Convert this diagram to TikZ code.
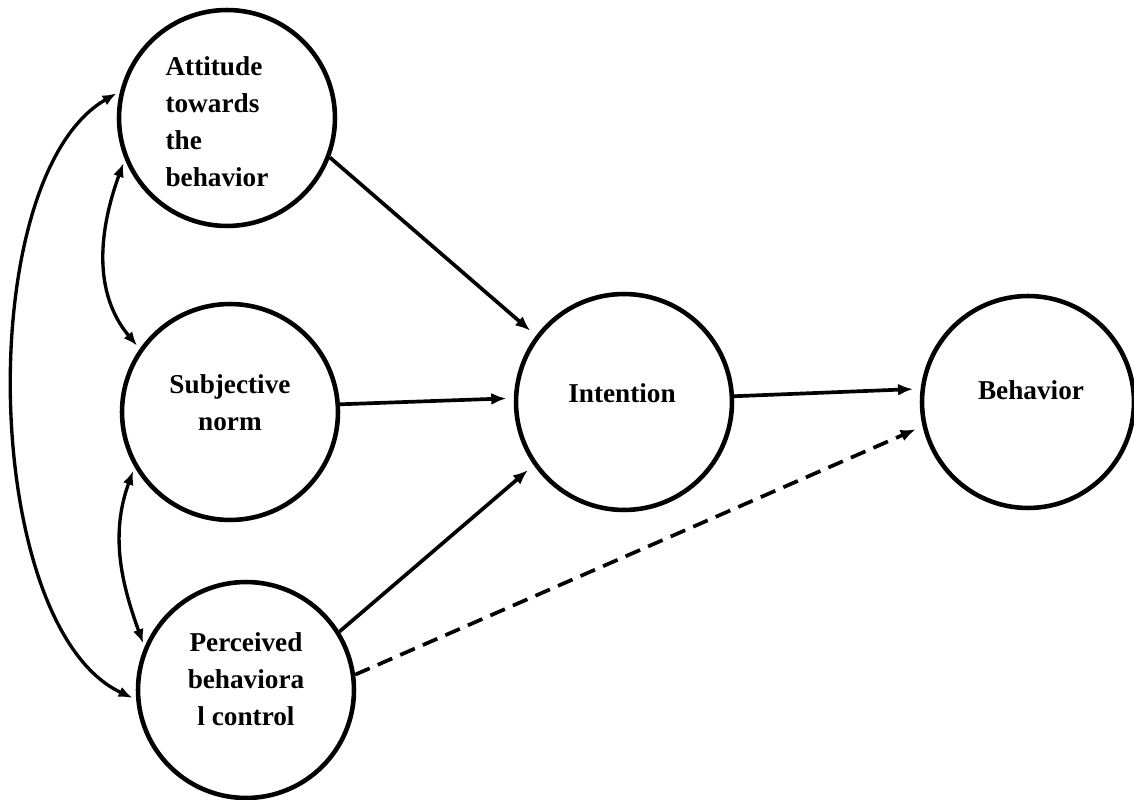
\documentclass[tikz,border=0pt]{standalone}
\usepackage{fontspec}
\setmainfont{Liberation Serif}
\usetikzlibrary{arrows.meta}

\begin{document}
\begin{tikzpicture}[x=0.02cm,y=-0.02cm,
  construct/.style={draw,circle,line width=2.6pt,minimum size=4.32cm,inner sep=0pt},
  caption/.style={font=\fontsize{15.5}{21}\selectfont\bfseries},
  link/.style={line width=2.1pt,-{Latex[length=0.3cm,width=0.24cm]},shorten >=0.15cm},
  corr/.style={line width=1.9pt,{Latex[length=0.28cm,width=0.22cm]}-{Latex[length=0.28cm,width=0.22cm]},shorten >=0.08cm,shorten <=0.08cm}]
  \useasboundingbox (0,0) rectangle (1134,800);

  \node [construct] (att) at (227,118) {};
  \node [construct] (norm) at (230,412) {};
  \node [construct] (pbc) at (246,690) {};
  \node [construct] (intent) at (624,402) {};
  \node [construct,minimum size=4.24cm] (behav) at (1028,402) {};

  \node [caption,align=left] (atttext) at (217,122) { Attitude\\towards\\the\\behavior };
  \node [caption,align=center] (normtext) at (230,403) { Subjective\\norm };
  \node [caption,align=center] (pbctext) at (246,679) { Perceived\\behaviora\\l control };
  \node [caption] (intenttext) at (622,393) { Intention };
  \node [caption] (behavtext) at (1031,390) { Behavior };

  \draw [link] (att.-21) -- (intent.143);
  \draw [link] (norm.4) -- (intent.178);
  \draw [link] (pbc.32) -- (intent.215);
  \draw [link] (intent.3) -- (behav.173);
  \draw [link,dashed,dash pattern=on 9pt off 5pt] (pbc.8) -- (behav.193);

  \draw [corr] (att.202) to [out=250,in=130] (norm.145);
  \draw [corr] (norm.210) to [out=250,in=110] (pbc.157);
  \draw [corr] (att.166) to [out=210,in=155,looseness=0.72] (pbc.185);
\end{tikzpicture}
\end{document}
